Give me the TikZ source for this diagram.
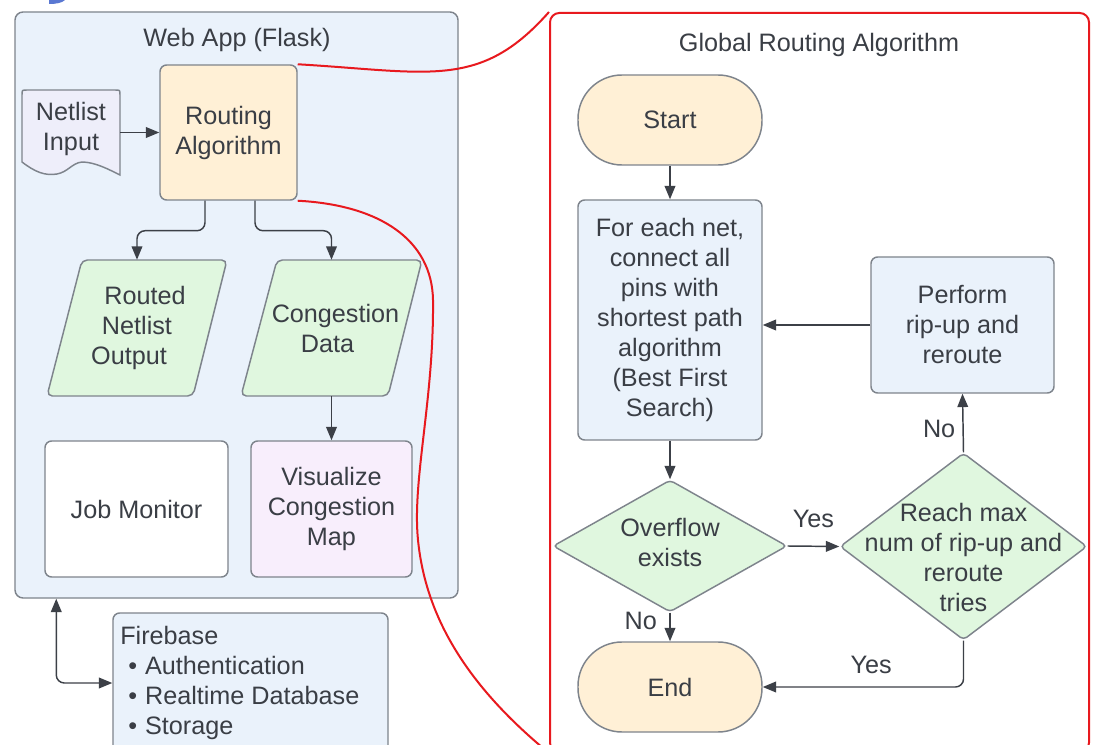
\documentclass[tikz,border=0pt]{standalone}
\usepackage{fontspec}
\setmainfont{Liberation Sans}
\usetikzlibrary{arrows.meta,shapes.geometric,fit,calc}
\definecolor{txtc}{HTML}{3A3E45}
\definecolor{boxc}{HTML}{7E848C}
\definecolor{arrc}{HTML}{3C4047}
\definecolor{bluef}{HTML}{EAF2FB}
\definecolor{orangef}{HTML}{FFF0D6}
\definecolor{greenf}{HTML}{E0F7DF}
\definecolor{pinkf}{HTML}{F8EEFC}
\definecolor{lavf}{HTML}{EEEEFA}
\definecolor{redc}{HTML}{E8191E}
\definecolor{bluemark}{HTML}{5A78D2}
\tikzset{
  txt/.style={font=\fontsize{18.9}{22.5}\selectfont, text=txtc, align=center},
  ttl/.style={font=\fontsize{18.9}{22.5}\selectfont, text=txtc},
  box/.style={draw=boxc, line width=1.1pt, rounded corners=5pt, inner sep=0pt},
  dia/.style={diamond, draw=boxc, line width=1.1pt, rounded corners=3pt, inner sep=0pt, fill=greenf},
  para/.style={draw=boxc, line width=1.1pt, rounded corners=4pt, fill=greenf},
  arr/.style={draw=arrc, line width=1.1pt, rounded corners=6pt, -{Triangle[length=10pt,width=8pt]}},
  arrboth/.style={draw=arrc, line width=1.1pt, rounded corners=6pt, {Triangle[length=10pt,width=8pt]}-{Triangle[length=10pt,width=8pt]}},
  redline/.style={draw=redc, line width=1.5pt},
  lbl/.style={font=\fontsize{18.9}{22.5}\selectfont, text=txtc}
}
\begin{document}
\begin{tikzpicture}[x=0.75pt,y=-0.75pt]
\clip (0,0) rectangle (1097,745);
\fill[white] (0,0) rectangle (1097,745);
% small cut-off mark at the top
\fill[bluemark] (49,0) -- (65,0) .. controls (62,3) and (56,4) .. (49,4) -- cycle;

% ---------------- Web App container ----------------
\node[box, fill=bluef, rounded corners=6pt, fit={(15,12)(458,598)}] (web) {};
\node[ttl] (webt) at (237,40) {Web App (Flask)};

% Netlist input (document shape)
\filldraw[draw=boxc, line width=1.1pt, fill=lavf]
  (22,162) -- (22,95) .. controls (22,90) .. (27,90) -- (115,90) .. controls (120,90) .. (120,95) -- (120,175)
  .. controls (110,170) and (95,162) .. (82,162) .. controls (72,163) and (68,172) .. (57,174)
  .. controls (45,176) and (35,172) .. (22,162) -- cycle;
\node[fit={(22,90)(120,168)}, inner sep=0pt, label={[txt]center:{Netlist\\Input}}] (net) {};

\node[box, fill=orangef, fit={(160,65)(297,200)}, label={[txt]center:{Routing\\Algorithm}}] (ra) {};

% parallelograms
\path[para] (82,260) -- (227,260) -- (193,396) -- (47,396) -- cycle;
\node[fit={(47,260)(227,396)}, inner sep=0pt, label={[txt]center:{\hspace*{12pt}Routed\\Netlist\\Output\hspace*{12pt}}}] (rno) {};
\path[para] (277,260) -- (422,260) -- (388,396) -- (241,396) -- cycle;
\node[fit={(241,260)(422,396)}, inner sep=0pt, label={[txt]center:{\hspace*{6pt}Congestion\\Data\hspace*{6pt}}}] (cd) {};

\node[box, fill=white, fit={(45,441)(228,577)}, label={[txt]center:{Job Monitor}}] (job) {};
\node[box, fill=pinkf, fit={(251,441)(412,577)}, label={[txt]center:{Visualize\\Congestion\\Map}}] (viz) {};

\draw[arr] (net.east |- ra.west) -- (ra.west);
\draw[arr] ($(ra.south)+(-23.5,0)$) -- ++(0,30) -| (rno.north);
\draw[arr] ($(ra.south)+(26.5,0)$) -- ++(0,30) -| (cd.north);
\draw[arr] (cd.south) -- (viz.north);

% ---------------- Firebase ----------------
\node[box, fill=bluef, fit={(113,613)(388,753)}] (fb) {};
\node[txt, align=left, anchor=north west, inner sep=0pt] (fbt) at (120,626)
  {Firebase\\\hspace*{6pt}\textbullet\hspace*{6pt}Authentication\\\hspace*{6pt}\textbullet\hspace*{6pt}Realtime Database\\\hspace*{6pt}\textbullet\hspace*{6pt}Storage};
\draw[arrboth] ($(web.south west)+(42,0)$) |- (fb.west);

% ---------------- Global Routing Algorithm ----------------
\node[draw=redc, line width=1.5pt, fill=white, rounded corners=7pt, inner sep=0pt, fit={(550,13)(1089,752)}] (gra) {};
\node[ttl] (grat) at (819,45) {Global Routing Algorithm};

\node[box, fill=orangef, rounded corners=33pt, fit={(578,75)(762,165)}, label={[txt]center:{Start}}] (start) {};
\node[box, fill=bluef, fit={(578,200)(762,440)}, label={[txt]center:{For each net,\\connect all\\pins with\\shortest path\\algorithm\\(Best First\\Search)}}] (fe) {};
\node[dia, minimum width=175.5pt, minimum height=99pt] (ov) at (670,546) {};
\node[txt] (ovt) at (670,542) {Overflow\\exists};
\node[dia, minimum width=185.25pt, minimum height=140.25pt] (rm) at (963.5,546.5) {};
\node[txt] (rmt) at (963.5,557) {Reach max\\num of rip-up and\\reroute\\tries};
\node[box, fill=bluef, fit={(871,257)(1054,393)}, label={[txt]center:{Perform\\rip-up and\\reroute}}] (perf) {};
\node[box, fill=orangef, rounded corners=33pt, fit={(578,642)(762,732)}, label={[txt]center:{End}}] (end) {};

\draw[arr] (start.south) -- (fe.north);
\draw[arr] (fe.south) -- (ov.north);
\draw[arr] (ov.east) -- node[lbl, above=10pt] (yes1) {Yes} (rm.west);
\draw[arr] (rm.north) -- node[lbl, left=2pt, pos=0.4] (no1) {No} (perf.south);
\draw[arr] (perf.west) -- (perf.west -| fe.east);
\draw[arr] (ov.south) -- node[lbl, left=6pt, pos=0.3] (no2) {No} (end.north);
\draw[arr] (rm.south) |- node[lbl, above=6pt, pos=0.73] (yes2) {Yes} (end.east);

% red zoom connectors
\draw[redline] (ra.north east) .. controls (430,72) and (480,90) .. (gra.north west);
\draw[redline] (ra.south east) .. controls (380,205) and (432,240) .. (433,300)
  .. controls (434,400) and (412,480) .. (418,540)
  .. controls (425,610) and (460,680) .. (gra.south west);
\end{tikzpicture}
\end{document}
